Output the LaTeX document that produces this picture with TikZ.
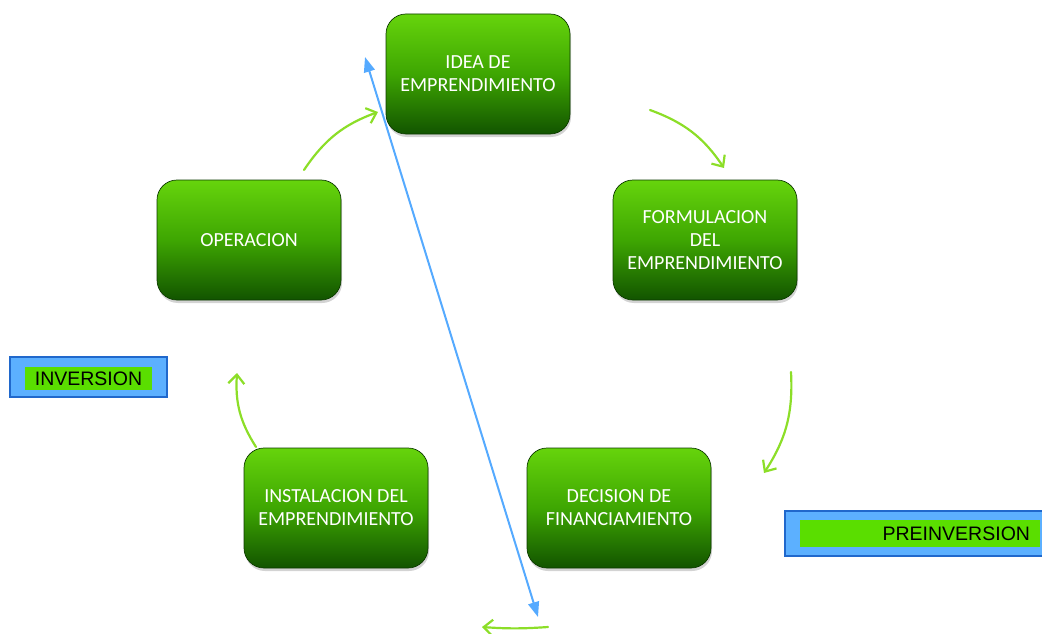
\documentclass[tikz,border=0pt]{standalone}
\usepackage{fontspec}
\newfontfamily\boxfont{Carlito}
\newfontfamily\labfont{Liberation Sans}
\usetikzlibrary{arrows.meta,shadows}
\definecolor{gtop}{RGB}{102,212,12}
\definecolor{gmid}{RGB}{62,166,2}
\definecolor{gbot}{RGB}{18,84,0}
\definecolor{arrgreen}{RGB}{140,222,40}
\definecolor{arrblue}{RGB}{85,170,255}
\definecolor{labblue}{RGB}{92,176,255}
\definecolor{labborder}{RGB}{32,104,204}
\definecolor{labgreen}{RGB}{90,222,0}
\tikzset{
  stagebox/.style={rounded corners=20pt, minimum width=184pt, minimum height=120pt,
    draw=gbot!70!black, line width=0.7pt,
    top color=gtop, bottom color=gbot, middle color=gmid,
    drop shadow={opacity=0.35, shadow xshift=1pt, shadow yshift=-3pt},
    text=white, align=center, font=\boxfont\fontsize{20}{23}\selectfont},
  cyclearrow/.style={draw=arrgreen, line width=2.2pt, line cap=round,
    -{Straight Barb[length=9pt,width=16pt,line width=2.2pt]}},
  phasebox/.style={draw=labborder, line width=1.6pt, fill=labblue, inner sep=0pt},
  phasetext/.style={fill=labgreen, inner sep=0pt, text=black,
    font=\labfont\fontsize{19.5}{22}\selectfont}
}
\begin{document}
\begin{tikzpicture}[x=1pt,y=-1pt]
\useasboundingbox (0,0) rectangle (1042,634);
% stage boxes
\node[stagebox] (idea) at (478,74) {IDEA DE\\EMPRENDIMIENTO};
\node[stagebox] (form) at (705,240) {FORMULACION\\DEL\\EMPRENDIMIENTO};
\node[stagebox] (deci) at (619,508) {DECISION DE\\FINANCIAMIENTO};
\node[stagebox] (inst) at (336,508) {INSTALACION DEL\\EMPRENDIMIENTO};
\node[stagebox] (oper) at (249,240) {OPERACION};
% cycle arrows
\coordinate (a1s) at (304,170); \coordinate (a1e) at (378,112);
\coordinate (a2s) at (650,110); \coordinate (a2e) at (724,168);
\coordinate (a3s) at (791,372); \coordinate (a3e) at (764,473);
\coordinate (a4s) at (548,627); \coordinate (a4e) at (482,627);
\coordinate (a5s) at (256,447); \coordinate (a5e) at (237,373);
\draw[cyclearrow] (a1s) to[bend left=18] (a1e);
\draw[cyclearrow] (a2s) to[bend left=18] (a2e);
\draw[cyclearrow] (a3s) to[bend left=18] (a3e);
\draw[cyclearrow] (a4s) to[bend left=4] (a4e);
\draw[cyclearrow] (a5s) to[bend left=18] (a5e);
% blue double arrow
\coordinate (bt) at (365,57); \coordinate (bb) at (538,617);
\draw[arrblue, line width=2pt, {Triangle[length=15pt,width=11pt]}-{Triangle[length=15pt,width=11pt]}] (bt) -- (bb);
% phase labels
\node[phasebox, minimum width=157pt, minimum height=40pt] (invbox) at (88.5,377) {};
\node[phasetext, minimum width=127pt, minimum height=23pt] (invtxt) at (88.5,378.5) {INVERSION\hspace{7pt}};
\node[phasebox, minimum width=262pt, minimum height=45pt] (prebox) at (916,533.5) {};
\node[phasetext, minimum width=240pt, minimum height=27pt, text width=220pt, align=right] (pretxt) at (920,533.5) {PREINVERSION};
\end{tikzpicture}
\end{document}
